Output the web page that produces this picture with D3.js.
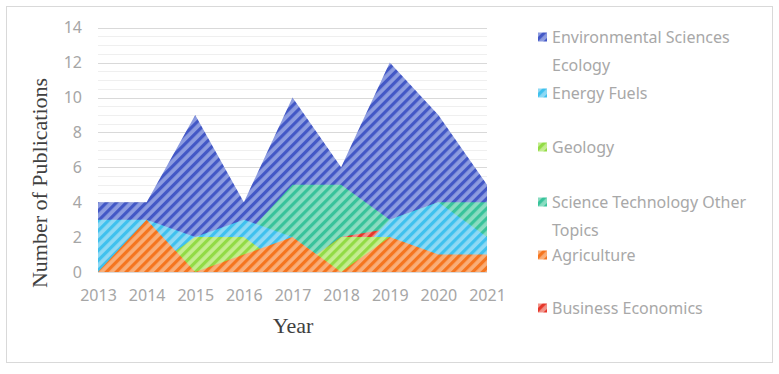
<!DOCTYPE html>
<html>
<head>
<meta charset="utf-8">
<script src="https://cdn.jsdelivr.net/npm/d3@7"></script>
<style>
  body { margin: 0; background: #fff; }
  text { font-family: "Noto Sans", sans-serif; }
</style>
</head>
<body>
<svg id="chart" width="779" height="374"></svg>
<script>
const years = [2013, 2014, 2015, 2016, 2017, 2018, 2019, 2020, 2021];

// values
const envSciences = [4, 4, 9, 4, 10, 6, 12, 9, 5];
const energyFuels = [3, 3, 2, 3, 2, 0, 3, 4, 2];
const geology = [0, 0, 2, 2, 0, 2, 2, 0, 0];
const sciTech = [2, 1, 1, 2, 5, 5, 3, 4, 4];
const agriculture = [0, 3, 0, 1, 2, 0, 2, 1, 1];
const business = [0, 0, 0, 0, 0, 2, 2.5, 0, 0];

const yTicks = [0, 2, 4, 6, 8, 10, 12, 14];

// legend order (as shown) and drawing order (back to front)
const series = [
  { key: "env", label: ["Environmental Sciences", "Ecology"], values: envSciences, dark: "#4358c6", light: "#8d9ce0" },
  { key: "energy", label: ["Energy Fuels"], values: energyFuels, dark: "#3fc1ee", light: "#8fd9f4" },
  { key: "geo", label: ["Geology"], values: geology, dark: "#92db45", light: "#c4ed90" },
  { key: "sci", label: ["Science Technology Other", "Topics"], values: sciTech, dark: "#38c39b", light: "#8adcc1" },
  { key: "agri", label: ["Agriculture"], values: agriculture, dark: "#f5751f", light: "#f9ae78" },
  { key: "bus", label: ["Business Economics"], values: business, dark: "#e6362a", light: "#f2948a" }
];
const drawOrder = ["env", "sci", "bus", "energy", "geo", "agri"];

const svg = d3.select("#chart");

// outer frame
svg.append("rect")
  .attr("x", 6.5).attr("y", 6.5)
  .attr("width", 766).attr("height", 356)
  .attr("fill", "#fff").attr("stroke", "#d9d9d9");

// stripe patterns
const defs = svg.append("defs");
series.forEach(s => {
  const p = defs.append("pattern")
    .attr("id", "pat-" + s.key)
    .attr("patternUnits", "userSpaceOnUse")
    .attr("width", 7).attr("height", 7)
    .attr("patternTransform", "rotate(45)");
  p.append("rect").attr("width", 7).attr("height", 7).attr("fill", s.light);
  p.append("rect").attr("width", 3.2).attr("height", 7).attr("fill", s.dark);
});

const x = d3.scalePoint().domain(years).range([98, 487]);
const y = d3.scaleLinear().domain([0, 14]).range([272, 27.7]);

// gridlines (minor then major)
const grid = svg.append("g");
grid.selectAll("line.minor")
  .data(y.ticks(35))
  .join("line")
  .attr("class", "minor")
  .attr("x1", 98).attr("x2", 487)
  .attr("y1", d => Math.round(y(d)) + 0.5).attr("y2", d => Math.round(y(d)) + 0.5)
  .attr("stroke", "#efefef");
grid.selectAll("line.major")
  .data(yTicks)
  .join("line")
  .attr("class", "major")
  .attr("x1", 98).attr("x2", 487)
  .attr("y1", d => Math.round(y(d)) + 0.5).attr("y2", d => Math.round(y(d)) + 0.5)
  .attr("stroke", "#d9d9d9");

// areas (overlapping, not stacked)
const area = d3.area()
  .x((d, i) => x(years[i]))
  .y0(y(0))
  .y1(d => y(d));

const areaG = svg.append("g");
drawOrder.forEach(k => {
  const s = series.find(d => d.key === k);
  areaG.append("path")
    .datum(s.values)
    .attr("d", area)
    .attr("fill", `url(#pat-${s.key})`);
});

// axes
const yAxisG = svg.append("g")
  .attr("transform", "translate(98,0)")
  .call(d3.axisLeft(y).tickValues(yTicks).tickSize(0).tickPadding(16));
const xAxisG = svg.append("g")
  .attr("transform", "translate(0,272)")
  .call(d3.axisBottom(x).tickSize(0).tickPadding(18));

[yAxisG, xAxisG].forEach(a => {
  a.select(".domain").remove();
  a.selectAll("text")
    .style("font-family", "'Noto Sans', sans-serif")
    .style("font-size", "16px")
    .attr("fill", "#a6a6a6");
});

// axis titles
svg.append("text")
  .attr("transform", "translate(47,183) rotate(-90)")
  .attr("text-anchor", "middle")
  .style("font-family", "'Liberation Serif', serif")
  .style("font-size", "22px")
  .attr("fill", "#404040")
  .text("Number of Publications");

svg.append("text")
  .attr("x", 293).attr("y", 333)
  .attr("text-anchor", "middle")
  .style("font-family", "'Liberation Serif', serif")
  .style("font-size", "22px")
  .attr("fill", "#404040")
  .text("Year");

// legend
const legendY = [37, 93, 147, 202, 255, 308];
const legend = svg.append("g");
series.forEach((s, i) => {
  const item = legend.append("g").attr("transform", `translate(538,${legendY[i]})`);
  item.append("rect")
    .attr("x", 0).attr("y", -4.5)
    .attr("width", 9).attr("height", 9)
    .attr("fill", `url(#pat-${s.key})`);
  const t = item.append("text")
    .attr("x", 14).attr("y", 0)
    .style("font-size", "16px")
    .attr("fill", "#a8a8a8");
  s.label.forEach((line, j) => {
    t.append("tspan").attr("x", 14).attr("dy", j === 0 ? "0.35em" : "1.75em").text(line);
  });
});
</script>
</body>
</html>
